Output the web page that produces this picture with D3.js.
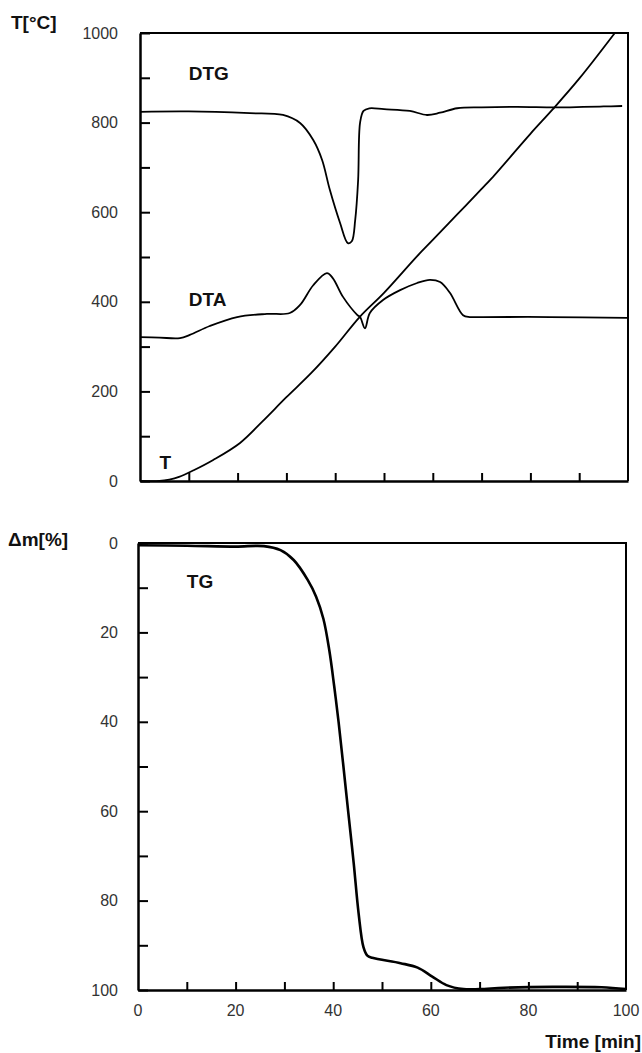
<!DOCTYPE html>
<html>
<head>
<meta charset="utf-8">
<script src="https://cdn.jsdelivr.net/npm/d3@7/dist/d3.min.js"></script>
<style>
  html, body { margin: 0; padding: 0; background: #fff; }
  svg { display: block; }
  text { font-family: "Liberation Sans", Arial, sans-serif; }
</style>
</head>
<body>
<svg id="chart" width="642" height="1053"></svg>
<script>
// ---- Data (time in min) ----
// Temperature curve T [°C]
const tTime = [0, 4, 6, 8, 11, 15, 20.5, 25, 30, 35, 40, 45, 50, 56.8, 60, 65, 70, 72, 80, 84.6, 90, 97.3];
const tValue = [0, 0, 3, 9, 24, 47, 85, 132, 187, 240, 300, 366, 420, 502, 538, 595, 652, 675, 775, 830, 898, 1000];

// DTG curve (plotted on T axis scale)
const dtgTime = [0, 10, 22.5, 29.3, 32.8, 35.5, 37.3, 38.9, 41, 42.6, 43.4, 44.1, 44.7, 45.1, 45.8, 47, 50, 55.3, 58.8, 61.5, 65, 70, 77.3, 85, 90.8, 95, 98.8];
const dtgValue = [824, 825, 821, 817, 799, 761, 717, 650, 576, 531, 535, 583, 672, 800, 826, 832, 830, 826, 817, 822, 832, 834, 835, 834, 835, 836, 837];

// DTA curve (plotted on T axis scale)
const dtaTime = [0, 4, 8.2, 10.2, 14.3, 19.9, 26, 30.7, 32.8, 35.5, 38.3, 39.5, 41.6, 44.5, 45.1, 46.1, 47.1, 49.8, 53.3, 56.8, 59.4, 61.5, 63.5, 66.2, 67.6, 70.3, 84, 99.8];
const dtaValue = [321, 320, 319, 326, 346, 366, 373, 375, 393, 437, 464, 453, 411, 371, 366, 341, 375, 404, 426, 442, 449, 444, 420, 370, 366, 366, 366, 364];

// TG curve, mass loss Δm [%]
const tgTime = [0, 10, 20, 25.8, 29.2, 31.9, 34.8, 36.5, 38, 39.2, 40.2, 41.1, 42, 43.1, 44.2, 45.2, 46.2, 47, 48, 53.8, 57.3, 60.3, 63.2, 66.7, 70, 75, 85, 95, 100];
const tgValue = [0.5, 0.6, 0.8, 0.7, 1.6, 3.8, 8.3, 12, 17, 24, 32, 40, 49, 60.4, 71.6, 82.8, 90.4, 92.3, 92.8, 94, 95, 97, 98.9, 99.8, 99.8, 99.5, 99.3, 99.4, 99.8];

// Tick values
const tTicks = [0, 100, 200, 300, 400, 500, 600, 700, 800, 900, 1000];
const mTicks = [0, 10, 20, 30, 40, 50, 60, 70, 80, 90, 100];
const timeTicks = [10, 20, 30, 40, 50, 60, 70, 80, 90];
const timeLabels = [0, 20, 40, 60, 80, 100];

// Labels
const curveLabels = [
  { text: "DTG", t: 10, v: 895, panel: "top" },
  { text: "DTA", t: 10, v: 390, panel: "top" },
  { text: "T", t: 4, v: 27, panel: "top" },
  { text: "TG", t: 10, v: 10, panel: "bottom" }
];

// ---- Layout ----
const svg = d3.select("#chart");
const pTop = { x0: 140, x1: 628, y0: 33, y1: 481 };
const pBot = { x0: 138, x1: 626, y0: 543, y1: 990 };

const xTop = d3.scaleLinear().domain([0, 100]).range([pTop.x0, pTop.x1]);
const yTop = d3.scaleLinear().domain([0, 1000]).range([pTop.y1, pTop.y0]);
const xBot = d3.scaleLinear().domain([0, 100]).range([pBot.x0, pBot.x1]);
const yBot = d3.scaleLinear().domain([0, 100]).range([pBot.y0, pBot.y1]);

const labelColor = "#333";
const curve = d3.curveCatmullRom.alpha(0.5);

function styleAxis(g, width) {
  g.select(".domain").attr("stroke", "#000").attr("stroke-width", width);
  g.selectAll(".tick line").attr("stroke", "#000").attr("stroke-width", 2);
  g.selectAll(".tick text").attr("fill", labelColor).attr("font-size", 16)
    .attr("font-family", "'Liberation Sans', Arial, sans-serif");
}

// ---- Top panel ----
svg.append("path")
  .attr("d", `M${pTop.x0},${pTop.y0}H${pTop.x1}V${pTop.y1}`)
  .attr("fill", "none").attr("stroke", "#000").attr("stroke-width", 2);

const gTopY = svg.append("g").attr("transform", `translate(${pTop.x0},0)`)
  .call(d3.axisLeft(yTop).tickValues(tTicks).tickSizeInner(-10).tickSizeOuter(0)
    .tickPadding(22).tickFormat(d => d % 200 === 0 ? d : ""));
styleAxis(gTopY, 2.5);

const gTopX = svg.append("g").attr("transform", `translate(0,${pTop.y1})`)
  .call(d3.axisBottom(xTop).tickValues(timeTicks).tickSizeInner(-8).tickSizeOuter(0).tickFormat(""));
styleAxis(gTopX, 2.5);

const lineTop = (ts, vs) => d3.line()
  .x((d, i) => xTop(ts[i])).y((d, i) => yTop(vs[i]))
  .curve(curve)(ts);

[[tTime, tValue], [dtgTime, dtgValue], [dtaTime, dtaValue]].forEach(([ts, vs]) => {
  svg.append("path").attr("d", lineTop(ts, vs))
    .attr("fill", "none").attr("stroke", "#000").attr("stroke-width", 1.8)
    .attr("stroke-linejoin", "round");
});

// ---- Bottom panel ----
svg.append("path")
  .attr("d", `M${pBot.x0},${pBot.y0}H${pBot.x1}V${pBot.y1}`)
  .attr("fill", "none").attr("stroke", "#000").attr("stroke-width", 2);

const gBotY = svg.append("g").attr("transform", `translate(${pBot.x0},0)`)
  .call(d3.axisLeft(yBot).tickValues(mTicks).tickSizeInner(-10).tickSizeOuter(0)
    .tickPadding(20).tickFormat(d => d % 20 === 0 ? d : ""));
styleAxis(gBotY, 2.5);

const gBotX = svg.append("g").attr("transform", `translate(0,${pBot.y1})`)
  .call(d3.axisBottom(xBot).tickValues(timeTicks).tickSizeInner(-8).tickSizeOuter(0).tickFormat(""));
styleAxis(gBotX, 2.5);

svg.append("g").selectAll("text").data(timeLabels).join("text")
  .attr("x", d => xBot(d)).attr("y", pBot.y1 + 26)
  .attr("text-anchor", "middle").attr("font-size", 16).attr("fill", labelColor)
  .text(d => d);

const lineBot = d3.line()
  .x((d, i) => xBot(tgTime[i])).y((d, i) => yBot(tgValue[i]))
  .curve(curve);
svg.append("path").attr("d", lineBot(tgTime))
  .attr("fill", "none").attr("stroke", "#000").attr("stroke-width", 2.6)
  .attr("stroke-linejoin", "round");

// ---- Curve labels ----
curveLabels.forEach(l => {
  const x = l.panel === "top" ? xTop(l.t) : xBot(l.t);
  const y = l.panel === "top" ? yTop(l.v) : yBot(l.v);
  svg.append("text").attr("x", x).attr("y", y)
    .attr("font-size", 19).attr("font-weight", "bold").attr("fill", "#111")
    .text(l.text);
});

// ---- Axis titles ----
svg.append("text").attr("x", 11).attr("y", 29)
  .attr("font-size", 19).attr("font-weight", "bold").attr("fill", "#111").text("T[°C]");
svg.append("text").attr("x", 8).attr("y", 546)
  .attr("font-size", 19).attr("font-weight", "bold").attr("fill", "#111").text("Δm[%]");
svg.append("text").attr("x", 641).attr("y", 1048).attr("text-anchor", "end")
  .attr("font-size", 19).attr("font-weight", "bold").attr("fill", "#111").text("Time [min]");
</script>
</body>
</html>
